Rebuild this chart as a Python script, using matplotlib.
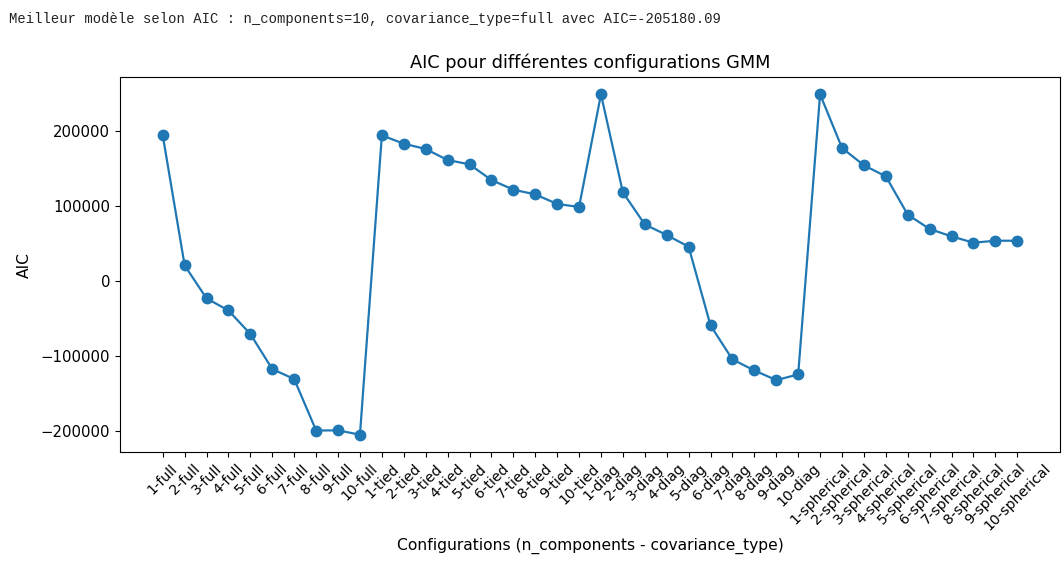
import matplotlib
matplotlib.use("Agg")
import matplotlib.pyplot as plt

n_components = list(range(1, 11))
cov_types = ["full", "tied", "diag", "spherical"]
labels = [f"{n}-{c}" for c in cov_types for n in n_components]

aic_full = [194500, 20800, -23200, -39300, -70800, -117600, -130900, -199600, -199400, -205180.09]
aic_tied = [194500, 183400, 176300, 161600, 155800, 134900, 122000, 115700, 102900, 98900]
aic_diag = [249300, 118400, 75600, 61400, 45800, -59300, -104700, -119400, -132300, -124700]
aic_spherical = [249300, 177700, 154500, 139800, 88600, 69500, 59600, 51200, 53800, 53800]
aic = aic_full + aic_tied + aic_diag + aic_spherical

fig = plt.figure(figsize=(10.63, 5.61), dpi=100)
# printed output line above the plot
fig.text(0.008, 0.967, "Meilleur modèle selon AIC : n_components=10, covariance_type=full avec AIC=-205180.09",
         family="Liberation Mono", fontsize=10, va="center", color="#222222")

ax = fig.add_axes([0.1129, 0.1948, 0.8843, 0.6674])
ax.plot(labels, aic, marker="o", color="#1f77b4", markersize=7.5, linewidth=1.6)
ax.set_title("AIC pour différentes configurations GMM", fontsize=12.8, pad=7)
ax.set_xlabel("Configurations (n_components - covariance_type)", fontsize=11.2)
ax.set_ylabel("AIC", fontsize=11.2)
ax.xaxis.set_label_coords(0.5, -0.2515)
ax.xaxis.label.set_va("center")
ax.yaxis.set_label_coords(-0.102, 0.5)
ax.yaxis.label.set_va("center")
ax.tick_params(axis="y", labelsize=10.7)
ax.tick_params(axis="x", labelsize=10.2)
plt.setp(ax.get_xticklabels(), rotation=45, ha="center")

fig.savefig("out.png", dpi=100)
